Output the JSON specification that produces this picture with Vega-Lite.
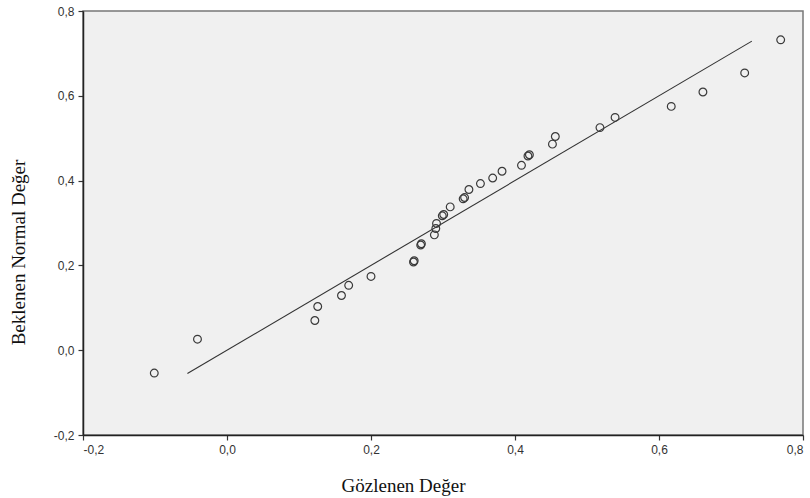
{
  "$schema": "https://vega.github.io/schema/vega-lite/v6.json",
  "width": 720,
  "height": 424,
  "autosize": "none",
  "padding": {"left": 83, "top": 11, "right": 7, "bottom": 63},
  "background": "white",
  "config": {
    "view": {"fill": "#f0f0f0", "stroke": "#777777", "strokeWidth": 1.5},
    "axis": {
      "grid": false,
      "domainColor": "#222222",
      "domainWidth": 1.5,
      "tickColor": "#333333",
      "tickSize": 5,
      "tickWidth": 1.2,
      "labelFont": "Liberation Sans",
      "labelFontSize": 12,
      "labelColor": "#333333",
      "titleFont": "Liberation Serif",
      "titleFontSize": 19,
      "titleFontWeight": "normal",
      "titleColor": "#111111"
    }
  },
  "datasets": {
    "pts": [
      {"obs": -0.101, "exp": -0.054},
      {"obs": -0.041, "exp": 0.026},
      {"obs": 0.122, "exp": 0.070},
      {"obs": 0.126, "exp": 0.103},
      {"obs": 0.159, "exp": 0.129},
      {"obs": 0.169, "exp": 0.153},
      {"obs": 0.200, "exp": 0.174},
      {"obs": 0.259, "exp": 0.208},
      {"obs": 0.260, "exp": 0.211},
      {"obs": 0.269, "exp": 0.248},
      {"obs": 0.270, "exp": 0.251},
      {"obs": 0.288, "exp": 0.272},
      {"obs": 0.290, "exp": 0.287},
      {"obs": 0.291, "exp": 0.299},
      {"obs": 0.299, "exp": 0.317},
      {"obs": 0.301, "exp": 0.320},
      {"obs": 0.310, "exp": 0.338},
      {"obs": 0.328, "exp": 0.357},
      {"obs": 0.330, "exp": 0.360},
      {"obs": 0.336, "exp": 0.379},
      {"obs": 0.352, "exp": 0.393},
      {"obs": 0.369, "exp": 0.406},
      {"obs": 0.382, "exp": 0.422},
      {"obs": 0.409, "exp": 0.436},
      {"obs": 0.418, "exp": 0.458},
      {"obs": 0.420, "exp": 0.461},
      {"obs": 0.452, "exp": 0.486},
      {"obs": 0.456, "exp": 0.504},
      {"obs": 0.518, "exp": 0.525},
      {"obs": 0.539, "exp": 0.549},
      {"obs": 0.617, "exp": 0.575},
      {"obs": 0.661, "exp": 0.609},
      {"obs": 0.719, "exp": 0.654},
      {"obs": 0.769, "exp": 0.732}
    ],
    "ref": [
      {"obs": -0.055, "exp": -0.055},
      {"obs": 0.729, "exp": 0.729}
    ]
  },
  "layer": [
    {
      "data": {"name": "ref"},
      "mark": {"type": "line", "color": "#333333", "strokeWidth": 1.1, "clip": true},
      "encoding": {
        "x": {"field": "obs", "type": "quantitative"},
        "y": {"field": "exp", "type": "quantitative"}
      }
    },
    {
      "data": {"name": "pts"},
      "mark": {"type": "point", "shape": "circle", "filled": false, "size": 60, "stroke": "#3a3a3a", "strokeWidth": 1.2, "opacity": 1},
      "encoding": {
        "x": {
          "field": "obs", "type": "quantitative",
          "scale": {"domain": [-0.2, 0.8], "nice": false, "zero": false},
          "axis": {
            "values": [-0.2, 0, 0.2, 0.4, 0.6, 0.8],
            "title": "Gözlenen Değer",
            "labelExpr": "replace(replace(format(datum.value, '.1f'), '.', ','), '\u2212', '-')",
            "labelPadding": 4,
            "titleX": 320,
            "titleY": 50,
            "titleAnchor": "middle",
            "titleBaseline": "middle"
          }
        },
        "y": {
          "field": "exp", "type": "quantitative",
          "scale": {"domain": [-0.2, 0.8], "nice": false, "zero": false},
          "axis": {
            "values": [-0.2, 0, 0.2, 0.4, 0.6, 0.8],
            "title": "Beklenen Normal Değer",
            "labelExpr": "replace(replace(format(datum.value, '.1f'), '.', ','), '\u2212', '-')",
            "labelPadding": 4,
            "titleX": -65,
            "titleY": 241,
            "titleAngle": -90,
            "titleAnchor": "middle",
            "titleBaseline": "middle"
          }
        }
      }
    }
  ]
}
